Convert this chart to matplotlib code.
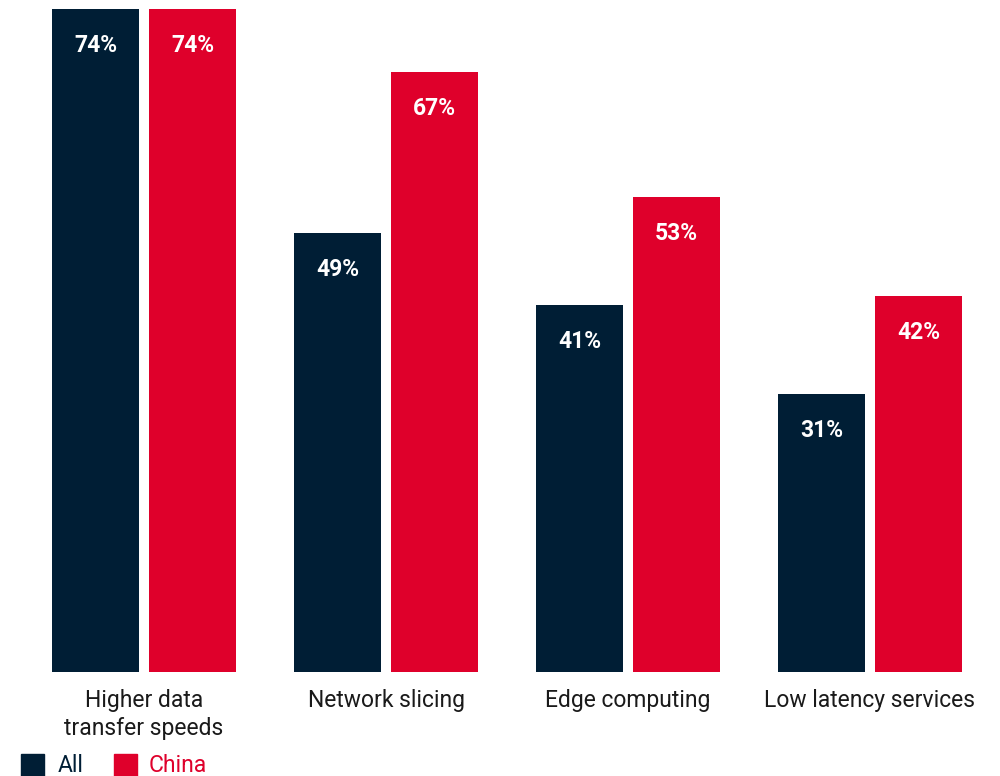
import matplotlib.pyplot as plt
from matplotlib.patches import Rectangle
import numpy as np

categories = ["Higher data\ntransfer speeds", "Network slicing", "Edge computing", "Low latency services"]
all_vals = [74, 49, 41, 31]
china_vals = [74, 67, 53, 42]
series_names = ["All", "China"]

NAVY = "#001E35"
RED = "#DF002B"

plt.rcParams['font.family'] = ['Roboto', 'DejaVu Sans']

fig = plt.figure(figsize=(10, 7.76), dpi=100)
ax = fig.add_axes([0, 104 / 776, 1, 672 / 776])

x = np.arange(len(categories))
w = 87 / 242
off = 48.5 / 242

bars_all = ax.bar(x - off, all_vals, w, color=NAVY)
bars_cn = ax.bar(x + off, china_vals, w, color=RED)

for bars in (bars_all, bars_cn):
    for b in bars:
        v = b.get_height()
        ax.text(b.get_x() + b.get_width() / 2, v - 4.1, f"{v:.0f}%",
                ha='center', va='center', color='white',
                fontsize=16.5, fontweight='bold')

ax.set_xlim(-144 / 242, 856 / 242)
ax.set_ylim(0, 75)
ax.axis('off')

# category labels under each group
for i, cat in enumerate(categories):
    ax.annotate(cat, xy=(i, 0), xycoords='data', xytext=(0, -12),
                textcoords='offset points', ha='center', va='top',
                fontsize=16.5, color='#1a1a1a', linespacing=1.3)

# legend along the bottom edge
for sx, tx, name, col in [(21, 58, series_names[0], NAVY), (114, 149, series_names[1], RED)]:
    fig.patches.append(Rectangle((sx / 1000, 0), 23 / 1000, 22 / 776,
                                 transform=fig.transFigure, color=col))
    fig.text(tx / 1000, 10 / 776, name, color=col, fontsize=16.5,
             ha='left', va='center')

fig.savefig("out.png", dpi=100)
